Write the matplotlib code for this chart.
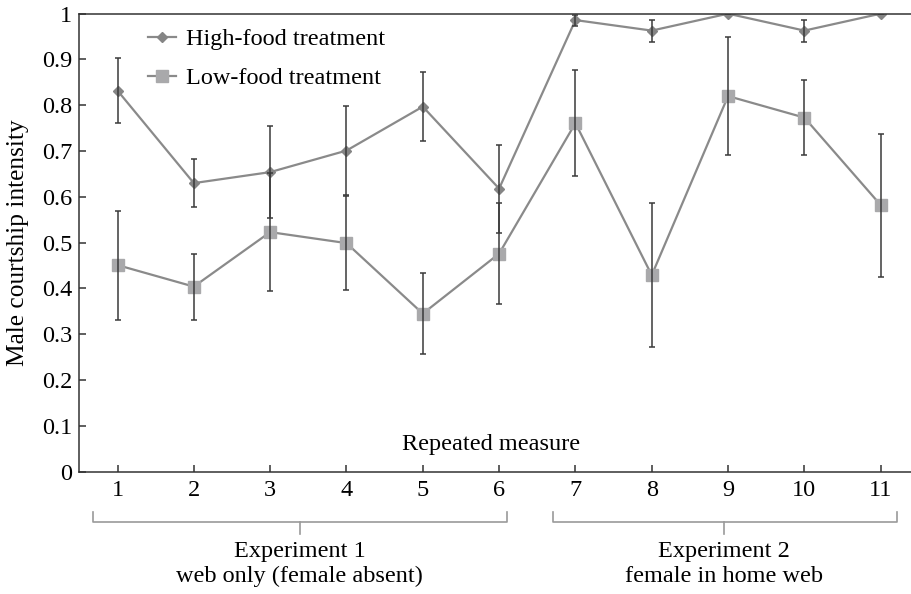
import numpy as np
import matplotlib
matplotlib.use("Agg")
from matplotlib import pyplot as plt

# values
measures = [1, 2, 3, 4, 5, 6, 7, 8, 9, 10, 11]
high_food = [0.832, 0.630, 0.654, 0.701, 0.797, 0.618, 0.986, 0.963, 1.0, 0.963, 1.0]
high_err = [0.071, 0.053, 0.101, 0.097, 0.075, 0.096, 0.012, 0.024, 0.0, 0.024, 0.0]
low_food = [0.451, 0.404, 0.523, 0.499, 0.345, 0.476, 0.761, 0.429, 0.820, 0.773, 0.582]
low_err = [0.119, 0.072, 0.128, 0.103, 0.089, 0.111, 0.115, 0.157, 0.128, 0.082, 0.156]
y_ticks = [0, 0.1, 0.2, 0.3, 0.4, 0.5, 0.6, 0.7, 0.8, 0.9, 1]
y_tick_labels = ["0", "0.1", "0.2", "0.3", "0.4", "0.5", "0.6", "0.7", "0.8", "0.9", "1"]

plt.rcParams['font.family'] = ['Liberation Serif', 'DejaVu Serif']
fs = 17.5
plt.rcParams['font.size'] = fs

fig = plt.figure(figsize=(9.12, 5.94), dpi=100)
ax = fig.add_axes([0.087, 0.206, 0.913, 0.771])

line_col = '#8a8a8a'
ax.plot(measures, high_food, color=line_col, lw=1.6, marker='D', ms=5,
        mfc='#858585', mec='#858585', label='High-food treatment', zorder=2)
ax.plot(measures, low_food, color=line_col, lw=1.6, marker='s', ms=8,
        mfc='#a9a9ab', mec='#a9a9ab', label='Low-food treatment', zorder=2)
ax.errorbar(measures, high_food, yerr=high_err, fmt='none', ecolor='#3a3a3a',
            elinewidth=1.1, capsize=2.5, capthick=1.1, zorder=3)
ax.errorbar(measures, low_food, yerr=low_err, fmt='none', ecolor='#3a3a3a',
            elinewidth=1.1, capsize=2.5, capthick=1.1, zorder=3)

ax.set_xlim(0.5, 11.41)
ax.set_ylim(0, 1)
ax.set_xticks(measures)
ax.set_yticks(y_ticks)
ax.set_yticklabels(y_tick_labels)
ax.tick_params(direction='in', length=5, width=1.1, color='#333333', labelsize=fs)
ax.tick_params(axis='x', pad=6)
ax.tick_params(axis='y', pad=5)
ax.spines['right'].set_visible(False)
for s in ['left', 'bottom', 'top']:
    ax.spines[s].set_linewidth(1.1)
    ax.spines[s].set_color('#333333')

ax.set_ylabel('Male courtship intensity', fontsize=18.3)
ax.yaxis.set_label_coords(-0.060, 0.50)
ax.text(5.894, 0.06, 'Repeated measure', ha='center', va='center', fontsize=fs)

leg = ax.legend(loc='upper left', bbox_to_anchor=(0.068, 0.995), frameon=False,
                handlelength=1.15, handletextpad=0.4, labelspacing=0.7,
                borderpad=0, fontsize=fs)

# brackets grouping the two experiments
trans = ax.get_xaxis_transform()
bracket_col = '#9a9a9a'
for x0, x1, xc, lines in [(0.682, 6.10, 3.39, ('Experiment 1', 'web only (female absent)')),
                          (6.70, 11.21, 8.95, ('Experiment 2', 'female in home web'))]:
    ax.plot([x0, x0, x1, x1], [-0.088, -0.111, -0.111, -0.088], color=bracket_col,
            lw=1.2, transform=trans, clip_on=False)
    ax.plot([xc, xc], [-0.111, -0.136], color=bracket_col, lw=1.2,
            transform=trans, clip_on=False)
    ax.text(xc, -0.175, lines[0], ha='center', va='center', transform=trans, fontsize=fs)
    ax.text(xc, -0.229, lines[1], ha='center', va='center', transform=trans, fontsize=fs)

fig.savefig('out.png', dpi=100)
